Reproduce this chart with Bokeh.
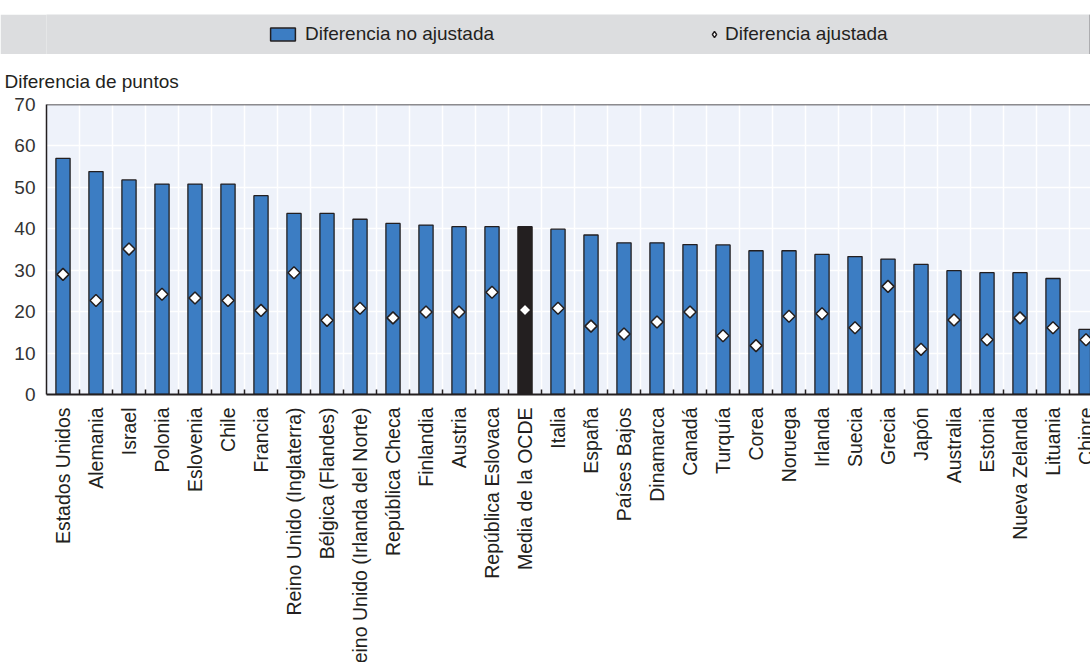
import numpy as np
from bokeh.plotting import figure
from bokeh.models import (ColumnDataSource, Range1d, FixedTicker, Span, Legend, LegendItem, Spacer)
from bokeh.layouts import column
from bokeh.core.properties import value
from bokeh.embed import file_html
from bokeh.resources import INLINE

countries = ["Estados Unidos", "Alemania", "Israel", "Polonia", "Eslovenia", "Chile", "Francia",
             "Reino Unido (Inglaterra)", "Bélgica (Flandes)", "Reino Unido (Irlanda del Norte)",
             "República Checa", "Finlandia", "Austria", "República Eslovaca", "Media de la OCDE",
             "Italia", "España", "Países Bajos", "Dinamarca", "Canadá", "Turquía", "Corea",
             "Noruega", "Irlanda", "Suecia", "Grecia", "Japón", "Australia", "Estonia",
             "Nueva Zelanda", "Lituania", "Chipre"]
unadjusted = [57.0, 53.8, 51.8, 50.8, 50.8, 50.8, 48.0, 43.7, 43.7, 42.3, 41.3, 40.9, 40.5, 40.5,
              40.5, 39.9, 38.5, 36.6, 36.6, 36.2, 36.1, 34.7, 34.7, 33.8, 33.3, 32.7, 31.4, 29.9,
              29.4, 29.4, 28.0, 15.7]
adjusted = [29.0, 22.7, 35.1, 24.2, 23.3, 22.7, 20.3, 29.4, 17.9, 20.8, 18.5, 19.9, 19.9, 24.7,
            20.4, 20.8, 16.5, 14.6, 17.5, 19.9, 14.2, 11.8, 18.9, 19.5, 16.1, 26.1, 10.9, 18.0,
            13.2, 18.5, 16.1, 13.2]
y_ticks = [0, 10, 20, 30, 40, 50, 60, 70]
highlight = "Media de la OCDE"
series_names = ["Diferencia no ajustada", "Diferencia ajustada"]
y_title = "Diferencia de puntos"

BLUE = "#3C7DC3"
DARK = "#231F20"
BG = "#EEF2FA"
BAND = "#DCDDDF"
FONT = "Liberation Sans"
W = 1090
LEFT = 46

n = len(countries)
xs = list(range(n))
colors = [DARK if c == highlight else BLUE for c in countries]
src = ColumnDataSource(dict(x=xs, name=countries, unadj=unadjusted, adj=adjusted, color=colors))

x_range = Range1d(-0.5, 31.136)

# ---------------- legend band ----------------
lf = figure(width=W, height=40, output_backend="svg", toolbar_location=None,
            x_range=Range1d(0, 1), y_range=Range1d(0, 1),
            x_axis_location=None, y_axis_location=None,
            min_border_left=0, min_border_right=0, min_border_top=0, min_border_bottom=0)
lf.background_fill_color = BAND
lf.border_fill_color = BAND
lf.outline_line_color = None
for g in lf.grid:
    g.visible = False
r1 = lf.vbar(x=[5], top=[1], width=0.1, fill_color=BLUE, line_color=DARK, line_width=1.5)
r2 = lf.scatter(x=[5], y=[0.5], marker="diamond", size=5,
                fill_color="white", line_color=DARK, line_width=1.4)
common = dict(orientation="horizontal", padding=0, margin=0, border_line_color=None,
              background_fill_alpha=0, label_text_font_size="19px", label_text_font=FONT,
              label_text_color=DARK, label_height=22)
leg1 = Legend(items=[LegendItem(label=series_names[0], renderers=[r1])], location=(267 - LEFT, 9),
              glyph_width=31, glyph_height=16, label_standoff=7, **common)
leg2 = Legend(items=[LegendItem(label=series_names[1], renderers=[r2])], location=(706 - LEFT, 9),
              glyph_width=16, glyph_height=16, label_standoff=3, **common)
lf.add_layout(leg1)
lf.add_layout(leg2)

# ---------------- main chart ----------------
p = figure(width=W, height=352, output_backend="svg", toolbar_location=None,
           x_range=x_range, y_range=Range1d(0, 70),
           min_border_left=LEFT, min_border_right=0, min_border_top=50, min_border_bottom=12)
p.background_fill_color = BG
p.border_fill_color = "white"
p.outline_line_color = None

p.title.text = y_title
p.title.align = "left"
p.title.offset = -42
p.title.standoff = 26
p.title.text_font = FONT
p.title.text_font_size = "19px"
p.title.text_font_style = "normal"
p.title.text_color = DARK

p.vbar(x="x", top="unadj", width=0.43, source=src, fill_color="color",
       line_color=DARK, line_width=1.3)
p.scatter(x="x", y="adj", source=src, marker="square", angle=np.pi / 4, size=8.5,
          fill_color="white", line_color=DARK, line_width=1.5)

boundaries = [i + 0.5 for i in range(n)]
p.xaxis.ticker = FixedTicker(ticks=[], minor_ticks=boundaries)
p.xaxis.major_tick_line_color = None
p.xaxis.minor_tick_in = 5
p.xaxis.minor_tick_out = 0
p.xaxis.minor_tick_line_color = DARK
p.xaxis.minor_tick_line_width = 1.5
p.xaxis.major_label_standoff = 0
p.xaxis.axis_line_color = DARK
p.xaxis.axis_line_width = 2
p.xgrid.ticker = FixedTicker(ticks=boundaries)
p.xgrid.grid_line_color = "white"
p.xgrid.grid_line_width = 1.5

p.yaxis.ticker = FixedTicker(ticks=y_ticks)
p.yaxis.major_tick_line_color = None
p.yaxis.minor_tick_line_color = None
p.yaxis.axis_line_color = DARK
p.yaxis.axis_line_width = 1.5
p.yaxis.major_label_text_font = FONT
p.yaxis.major_label_text_font_size = "19px"
p.yaxis.major_label_text_color = "#333333"
p.yaxis.major_label_standoff = 5
p.ygrid.grid_line_color = "white"
p.ygrid.grid_line_width = 1.5

p.add_layout(Span(location=70, dimension="width", line_color=DARK, line_width=1.5))

# ---------------- category labels ----------------
bf = figure(width=W, height=256, output_backend="svg", toolbar_location=None,
            x_range=x_range, y_range=Range1d(-256, 0),
            x_axis_location=None, y_axis_location=None,
            min_border_left=LEFT, min_border_right=0, min_border_top=0, min_border_bottom=0)
bf.outline_line_color = None
bf.background_fill_color = "white"
bf.border_fill_color = "white"
for g in bf.grid:
    g.visible = False
bf.text(x="x", y=-1, text="name", source=src, angle=np.pi / 2,
        text_align="right", text_baseline="middle",
        text_font=value(FONT), text_font_size=value("19.5px"), text_color=DARK)

layout = column(Spacer(width=W, height=14), lf, p, bf, spacing=0)
open("out.html", "w").write(file_html(layout, INLINE))
